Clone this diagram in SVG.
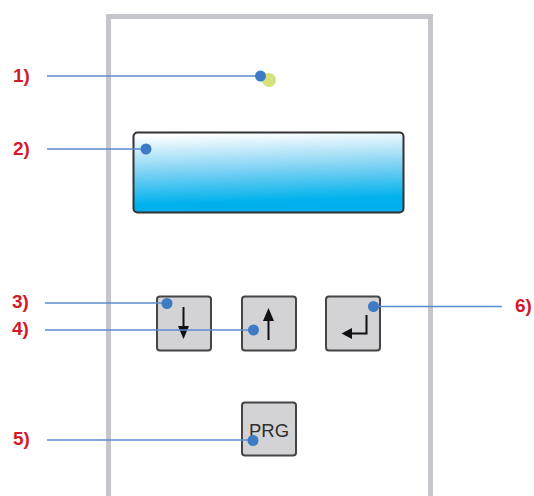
<svg xmlns="http://www.w3.org/2000/svg" width="534" height="496" viewBox="0 0 534 496">
<defs>
<style>
.lbl{font-family:"Liberation Sans",Arial,sans-serif;font-weight:bold;font-size:19px;fill:#d41a2a}
.ln{stroke:#5b8bd0;stroke-width:1.6;fill:none}
.dot{fill:#3f7bc4}
.btn{fill:#d3d3d6;stroke:#454545;stroke-width:2}
.arr{stroke:#111;stroke-width:2;fill:none}
.ah{fill:#111}
</style>
<linearGradient id="lcd" x1="0.45" y1="0" x2="0.55" y2="1">
<stop offset="0" stop-color="#ffffff"/>
<stop offset="0.45" stop-color="#7fd2f4"/>
<stop offset="0.85" stop-color="#00b2ec"/>
<stop offset="1" stop-color="#00aeea"/>
</linearGradient>
<filter id="blur" x="-50%" y="-50%" width="200%" height="200%"><feGaussianBlur stdDeviation="0.6"/></filter>
</defs>
<rect width="534" height="496" fill="#ffffff"/>
<g id="panel">
<path d="M108.5 496 V16.5 H430.5 V496" fill="none" stroke="#c6c6ca" stroke-width="5"/>
</g>
<g id="led">
<circle cx="269" cy="80" r="7" fill="#d6e17a" filter="url(#blur)"/>
</g>
<g id="display">
<rect x="133.5" y="132.5" width="270" height="80" rx="4" fill="url(#lcd)" stroke="#333" stroke-width="2"/>
</g>
<g id="btn-down">
<rect class="btn" x="157" y="296.5" width="54" height="54" rx="3"/>
<line class="arr" x1="183.5" y1="307" x2="183.5" y2="330"/>
<polygon class="ah" points="178,326 189,326 183.5,339"/>
</g>
<g id="btn-up">
<rect class="btn" x="242" y="296.5" width="54" height="54" rx="3"/>
<line class="arr" x1="268.5" y1="318" x2="268.5" y2="340"/>
<polygon class="ah" points="263,321 274,321 268.5,308"/>
</g>
<g id="btn-enter">
<rect class="btn" x="326" y="296.5" width="54" height="54" rx="3"/>
<path class="arr" d="M366.5 315 V333.5 H350"/>
<polygon class="ah" points="352,328 352,339 341.5,333.5"/>
</g>
<g id="btn-prg">
<rect class="btn" x="242" y="402.5" width="54" height="53" rx="3"/>
<text x="269" y="437" text-anchor="middle" font-family="Liberation Sans,Arial,sans-serif" font-size="18.5" fill="#2e2e2e">PRG</text>
</g>
<g id="connectors">
<line class="ln" x1="47" y1="76" x2="260" y2="76"/>
<circle class="dot" cx="260.5" cy="76" r="5.5"/>
<line class="ln" x1="47" y1="149" x2="146" y2="149"/>
<circle class="dot" cx="146" cy="149" r="5.5"/>
<line class="ln" x1="45" y1="303" x2="167" y2="303"/>
<circle class="dot" cx="167" cy="303.5" r="5.5"/>
<line class="ln" x1="45" y1="330" x2="253" y2="330"/>
<circle class="dot" cx="253.5" cy="330" r="5.5"/>
<line class="ln" x1="47" y1="440" x2="253" y2="440"/>
<circle class="dot" cx="253" cy="440.5" r="5.5"/>
<line class="ln" x1="373" y1="306.5" x2="502" y2="306.5"/>
<circle class="dot" cx="373.5" cy="306.5" r="5.5"/>
</g>
<g id="labels">
<text class="lbl" x="13" y="82">1)</text>
<text class="lbl" x="13" y="155">2)</text>
<text class="lbl" x="12" y="308">3)</text>
<text class="lbl" x="12" y="335">4)</text>
<text class="lbl" x="13" y="445">5)</text>
<text class="lbl" x="515" y="312">6)</text>
</g>
</svg>
